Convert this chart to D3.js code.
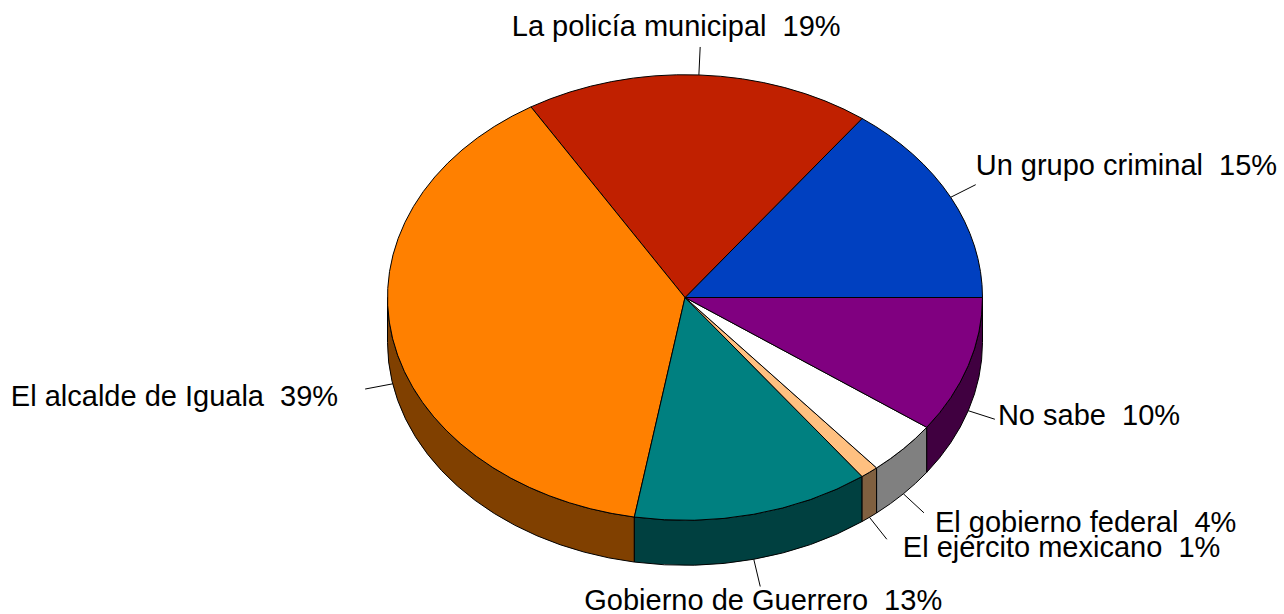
<!DOCTYPE html>
<html>
<head>
<meta charset="utf-8">
<script src="https://cdn.jsdelivr.net/npm/d3@7"></script>
<style>
  html, body { margin: 0; padding: 0; background: #ffffff; }
  svg { display: block; }
  text { font-family: "Liberation Sans", Arial, sans-serif; font-size: 29px; fill: #000; white-space: pre; }
</style>
</head>
<body>
<svg id="chart" width="1284" height="614"></svg>
<script>
// Survey answers and their shares (%)
const categories = ["Un grupo criminal", "La policía municipal", "El alcalde de Iguala",
                    "Gobierno de Guerrero", "El ejército mexicano", "El gobierno federal", "No sabe"];
const shares = [15, 19, 39, 13, 1, 4, 10];
const topColors = ["#0040c0", "#c02000", "#ff8000", "#008080", "#ffc080", "#ffffff", "#800080"];
const sideColors = ["#002060", "#601000", "#804000", "#004040", "#806040", "#808080", "#400040"];

// Label placement relative to the end of each leader line (dy = baseline offset)
const labelLayout = [
  { anchor: "start",  dx: 0,   dy: -10 },
  { anchor: "middle", dx: -24, dy: -11 },
  { anchor: "end",    dx: -27, dy: 17 },
  { anchor: "middle", dx: 3,   dy: 23.5 },
  { anchor: "start",  dx: 16,  dy: 17.5 },
  { anchor: "start",  dx: 11,  dy: 19 },
  { anchor: "start",  dx: 3,   dy: 6 }
];

const cx = 685, cy = 297.5, rx = 297.5, ry = 222.8, depth = 45, leader = 28;

const svg = d3.select("#chart");

const data = categories.map((name, i) => ({ name, value: shares[i], i }));

// Slices start at 3 o'clock and run counter-clockwise
const pie = d3.pie().sort(null).value(d => d.value)
  .startAngle(Math.PI / 2).endAngle(Math.PI / 2 - 2 * Math.PI);
const arcs = pie(data);

// screen angle (counter-clockwise from +x) from a d3 angle
const theta = phi => Math.PI / 2 - phi;
const pt = (t, dy = 0) => [cx + rx * Math.cos(t), cy - ry * Math.sin(t) + dy];

// Side walls: only the front half (theta in [pi, 2pi]) is visible
const sides = svg.append("g");
arcs.forEach(a => {
  let t0 = theta(a.startAngle), t1 = theta(a.endAngle);
  if (t0 > t1) [t0, t1] = [t1, t0];
  const s = Math.max(t0, Math.PI), e = Math.min(t1, 2 * Math.PI);
  if (e <= s) return;
  const p0 = pt(s), p1 = pt(e), q1 = pt(e, depth), q0 = pt(s, depth);
  const d = `M${p0}A${rx},${ry} 0 0 0 ${p1}L${q1}A${rx},${ry} 0 0 1 ${q0}Z`;
  sides.append("path").attr("d", d)
    .attr("fill", sideColors[a.data.i])
    .attr("stroke", "#000").attr("stroke-width", 1).attr("stroke-linejoin", "round");
});

// Top faces: circular arcs squashed into the ellipse
const arcGen = d3.arc().innerRadius(0).outerRadius(rx);
svg.append("g")
  .attr("transform", `translate(${cx},${cy}) scale(1,${ry / rx})`)
  .selectAll("path").data(arcs).join("path")
  .attr("d", arcGen)
  .attr("fill", d => topColors[d.data.i])
  .attr("stroke", "#000").attr("stroke-width", 1)
  .attr("vector-effect", "non-scaling-stroke")
  .attr("stroke-linejoin", "round");

// Leader lines and labels
const labels = svg.append("g");
arcs.forEach(a => {
  const t = theta((a.startAngle + a.endAngle) / 2);
  const below = Math.sin(t) < 0;
  const start = pt(t, below ? depth : 0);
  const end = [start[0] + leader * Math.cos(t), start[1] - leader * Math.sin(t)];
  labels.append("line")
    .attr("x1", start[0]).attr("y1", start[1])
    .attr("x2", end[0]).attr("y2", end[1])
    .attr("stroke", "#000").attr("stroke-width", 1);
  const L = labelLayout[a.data.i];
  labels.append("text")
    .attr("x", end[0] + L.dx).attr("y", end[1] + L.dy)
    .attr("text-anchor", L.anchor)
    .text(`${a.data.name}  ${a.data.value}%`);
});
</script>
</body>
</html>
